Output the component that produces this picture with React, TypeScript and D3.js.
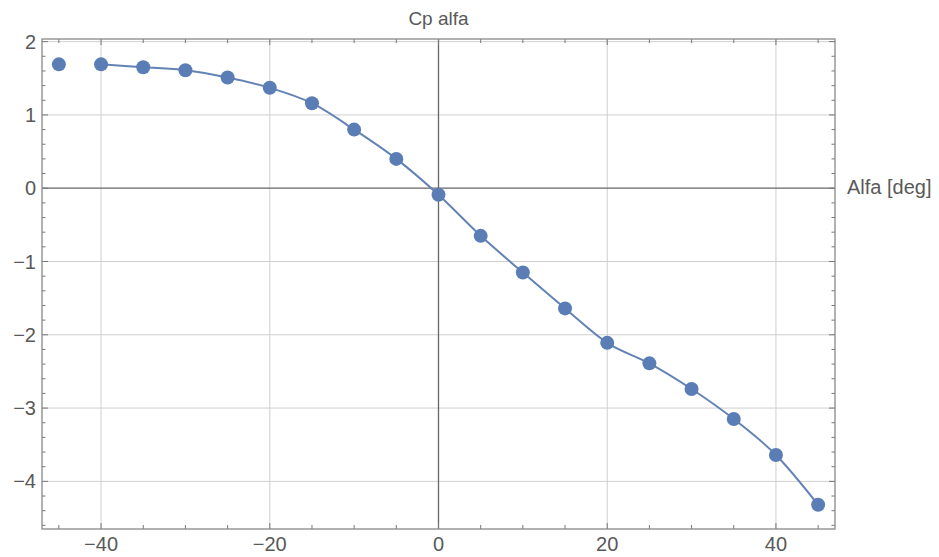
import * as d3 from 'd3'

// Cp vs angle of attack
const alfa = [-45, -40, -35, -30, -25, -20, -15, -10, -5, 0, 5, 10, 15, 20, 25, 30, 35, 40, 45]
const cp = [1.69, 1.69, 1.65, 1.61, 1.51, 1.37, 1.16, 0.80, 0.40, -0.09, -0.65, -1.15, -1.64, -2.11, -2.39, -2.74, -3.15, -3.64, -4.32]
const xLabels = [-40, -20, 0, 20, 40]
const yLabels = [-4, -3, -2, -1, 0, 1, 2]

const W = 939, H = 557
const frame = {left: 42, top: 39, right: 835, bottom: 529}
const blue = '#5a7db5'
const font = '"Liberation Sans", Arial, sans-serif'

export default function App() {
    const x = d3.scaleLinear().domain([-47, 47]).range([frame.left, frame.right])
    const y = d3.scaleLinear().domain([-4.65, 2.036]).range([frame.bottom, frame.top])

    // line starts at -40 (first point stands alone)
    const pts = alfa.map((a, i) => [a, cp[i]] as [number, number]).filter(d => d[0] >= -40)
    const line = d3.line<[number, number]>()
        .x(d => x(d[0]))
        .y(d => y(d[1]))
        .curve(d3.curveMonotoneX)

    const xMinor = d3.range(-45, 46, 5)
    const yMinor = d3.range(-4.6, 2.01, 0.2).map(v => Math.round(v * 10) / 10)
    const fmt = (v: number) => v < 0 ? '\u2212' + Math.abs(v) : String(v)

    return (
        <svg width={W} height={H} style={{position: 'absolute', left: 0, top: 0, background: '#fff'}}>
            {/* grid */}
            {xLabels.filter(v => v !== 0).map(v =>
                <line key={'gx' + v} x1={x(v)} x2={x(v)} y1={frame.top} y2={frame.bottom} stroke="#cfcfcf" strokeWidth={1}/>)}
            {yLabels.filter(v => v !== 0).map(v =>
                <line key={'gy' + v} x1={frame.left} x2={frame.right} y1={y(v)} y2={y(v)} stroke="#cfcfcf" strokeWidth={1}/>)}
            {/* axes through origin */}
            <line x1={x(0)} x2={x(0)} y1={frame.top} y2={frame.bottom} stroke="#666" strokeWidth={1.3}/>
            <line x1={frame.left} x2={frame.right} y1={y(0)} y2={y(0)} stroke="#666" strokeWidth={1.3}/>

            {/* ticks */}
            {xMinor.map(v => {
                const len = xLabels.includes(v) ? 6 : 4
                return <g key={'tx' + v} stroke="#777">
                    <line x1={x(v)} x2={x(v)} y1={frame.bottom} y2={frame.bottom - len}/>
                    <line x1={x(v)} x2={x(v)} y1={frame.top} y2={frame.top + len}/>
                </g>
            })}
            {yMinor.map(v => {
                const len = Number.isInteger(v) ? 6 : 3.5
                return <g key={'ty' + v} stroke="#777">
                    <line x1={frame.left} x2={frame.left + len} y1={y(v)} y2={y(v)}/>
                    <line x1={frame.right} x2={frame.right - len} y1={y(v)} y2={y(v)}/>
                </g>
            })}

            {/* frame */}
            <rect x={frame.left} y={frame.top} width={frame.right - frame.left} height={frame.bottom - frame.top}
                  fill="none" stroke="#888" strokeWidth={1.3}/>

            {/* tick labels */}
            {xLabels.map(v =>
                <text key={'lx' + v} x={x(v)} y={frame.bottom + 22} textAnchor="middle" fontFamily={font}
                      fontSize={20} fill="#595959">{fmt(v)}</text>)}
            {yLabels.map(v =>
                <text key={'ly' + v} x={frame.left - 6} y={y(v) + 7} textAnchor="end" fontFamily={font}
                      fontSize={20} fill="#595959">{fmt(v)}</text>)}

            {/* titles */}
            <text x={x(0)} y={25} textAnchor="middle" fontFamily={font} fontSize={19} fill="#595959">Cp alfa</text>
            <text x={frame.right + 12} y={y(0) + 6} fontFamily={font} fontSize={20} fill="#595959">Alfa [deg]</text>

            {/* series */}
            <path d={line(pts) ?? ''} fill="none" stroke="#6382b5" strokeWidth={2}/>
            {alfa.map((a, i) =>
                <circle key={'p' + a} cx={x(a)} cy={y(cp[i])} r={7} fill={blue}/>)}
        </svg>
    )
}
